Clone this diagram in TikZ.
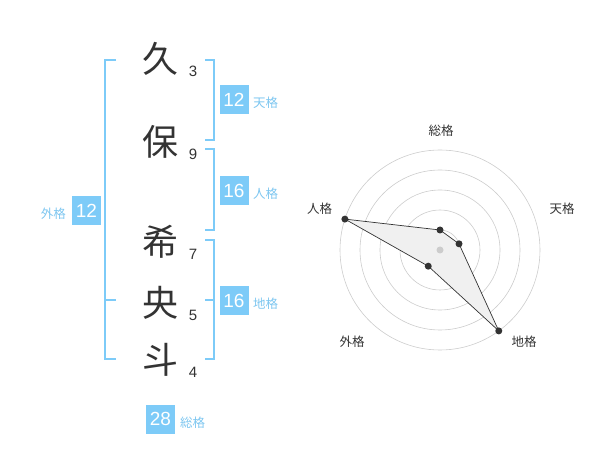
\documentclass[tikz,border=0pt]{standalone}
\usepackage{fontspec}
\setmainfont{Liberation Sans}
\newfontfamily\jpfont{Noto Sans CJK JP}
\definecolor{kakublue}{RGB}{125,203,248}
\definecolor{kakutext}{RGB}{125,198,240}
\definecolor{inkgray}{RGB}{51,51,51}
\definecolor{ringgray}{RGB}{204,204,204}
\begin{document}
\begin{tikzpicture}[x=1pt,y=-1pt,
  kanji/.style={font=\jpfont\fontsize{36}{36}\selectfont,text=inkgray,inner sep=0pt},
  strokes/.style={font=\fontsize{15}{15}\selectfont,text=inkgray,inner sep=0pt},
  score/.style={fill=kakublue,text=white,font=\fontsize{19}{19}\selectfont,minimum width=29pt,minimum height=29pt,inner sep=0pt},
  kaku/.style={font=\jpfont\fontsize{12.5}{12.5}\selectfont,text=kakutext,inner sep=0pt},
  bracket/.style={draw=kakublue,line width=2pt},
  axislabel/.style={font=\jpfont\fontsize{12.5}{12.5}\selectfont,text=inkgray,inner sep=0pt},
  dot/.style={circle,fill=inkgray,inner sep=0pt,minimum size=7pt}]
\useasboundingbox (0,0) rectangle (600,470);
\foreach \n/\c/\y/\s in {1/久/59/3,2/保/142/9,3/希/242/7,4/央/303/5,5/斗/360/4}{
  \node[kanji] (k\n) at (160,\y) {\c};
  \node[strokes] (s\n) at (193,\y+12) {\s};
}
\draw[bracket] (116,60) -- (105,60) -- (105,359) -- (116,359);
\draw[bracket] (105,300) -- (116,300);
\draw[bracket] (205,60) -- (214,60) -- (214,140) -- (205,140);
\draw[bracket] (205,149) -- (214,149) -- (214,230) -- (205,230);
\draw[bracket] (205,240) -- (214,240) -- (214,359) -- (205,359);
\draw[bracket] (205,300) -- (214,300);
\node[score] (ten) at (234,100) {12};
\node[kaku,anchor=west] (tenl) at (253,103) {天格};
\node[score] (jin) at (234,190.5) {16};
\node[kaku,anchor=west] (jinl) at (253,194) {人格};
\node[score] (chi) at (234,300.5) {16};
\node[kaku,anchor=west] (chil) at (253,304) {地格};
\node[score] (gai) at (86.5,210.5) {12};
\node[kaku,anchor=east] (gail) at (66,214) {外格};
\node[score] (sou) at (160.5,419) {28};
\node[kaku,anchor=west] (soul) at (180,422.5) {総格};
\foreach \r in {20,40,...,100}
  \draw[ringgray,line width=.6pt] (440,250) circle[radius=\r];
\begin{scope}[shift={(440,250)},yscale=-1]
\foreach \a/\r [count=\i] in {90/20,18/20,-54/100,-126/20,162/100}
  \coordinate (v\i) at (\a:\r);
\end{scope}
\filldraw[fill=black!6,draw=inkgray,line width=.7pt] (v1) -- (v2) -- (v3) -- (v4) -- (v5) -- cycle;
\node[dot,fill=ringgray] (c) at (440,250) {};
\foreach \i in {1,...,5}
  \node[dot] (d\i) at (v\i) {};
\node[axislabel] (asou) at (441,130.5) {総格};
\node[axislabel] (aten) at (562,208.5) {天格};
\node[axislabel] (ajin) at (319.5,208.5) {人格};
\node[axislabel] (agai) at (352,341.5) {外格};
\node[axislabel] (achi) at (524,341.5) {地格};
\end{tikzpicture}
\end{document}
